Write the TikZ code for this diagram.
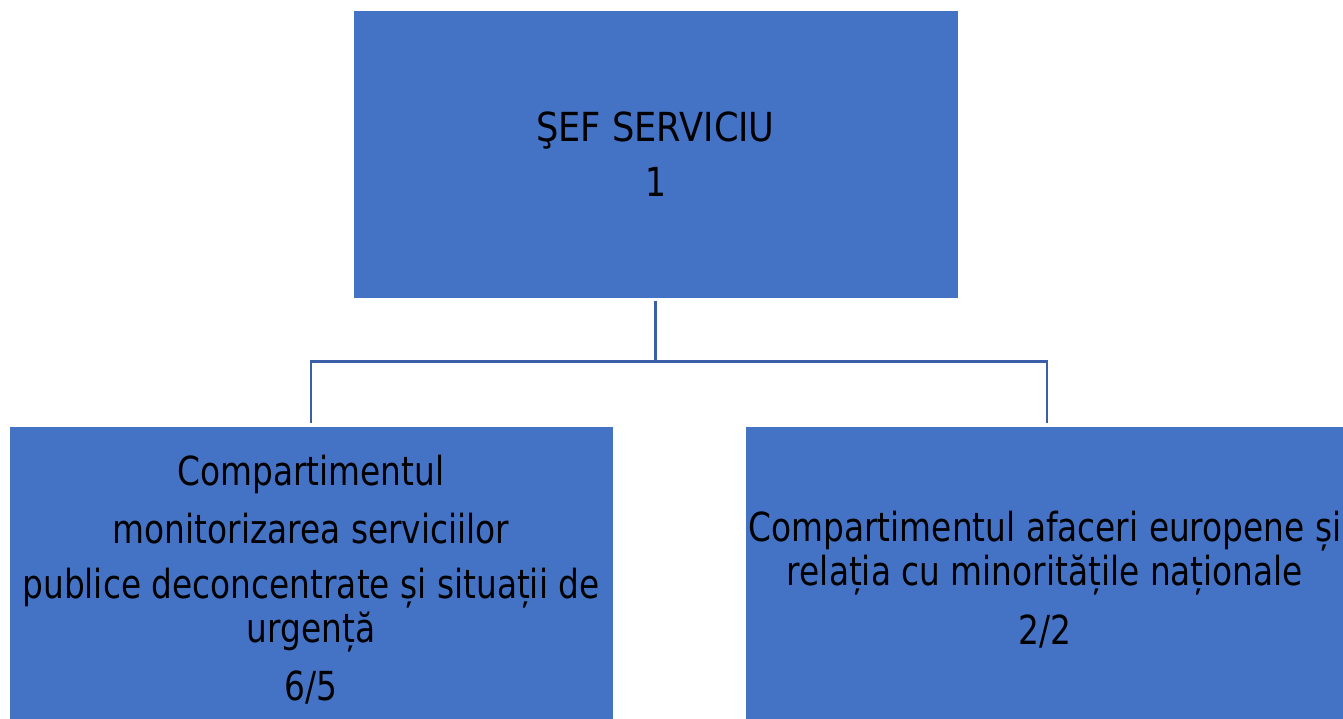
\documentclass[tikz,border=0pt]{standalone}
\usepackage{fontspec}
\setmainfont{DejaVu Sans}[FakeStretch=0.82]
\definecolor{boxblue}{RGB}{68,114,196}
\definecolor{lineblue}{RGB}{59,94,166}

\begin{document}
\begin{tikzpicture}[x=1pt,y=-1pt,
  box/.style={rectangle,fill=boxblue,draw=white,line width=0.8pt,inner sep=0pt,
    align=center,font=\fontsize{40}{44}\selectfont},
  conn/.style={draw=lineblue,line width=2.5pt}]
% The frame
\clip (0,0) rectangle (1343,718);
\fill[white] (0,0) rectangle (1343,718);

% The boxes
\node[box,minimum width=605pt,minimum height=288pt] (sef) at (655.5,154)
  {\fontsize{40}{44}\selectfont\addfontfeature{FakeStretch=0.88}ŞEF SERVICIU\\[11pt] 1};
\node[box,minimum width=604pt,minimum height=308pt] (monit) at (311,580)
  {Compartimentul\\[14pt] monitorizarea serviciilor\\[11pt]
   publice deconcentrate și situații de\\ urgență\\[14pt] 6/5};
\node[box,minimum width=600pt,minimum height=308pt] (afaceri) at (1045,580)
  {Compartimentul afaceri europene și\\ relația cu minoritățile naționale\\[15pt] 2/2};

% Connectors
\draw[conn] ([yshift=-3pt]sef.south) -- ++(0,60) coordinate (bus);
\draw[conn] (bus) -| ([yshift=3pt]monit.north);
\draw[conn] (bus) -| ([xshift=2pt,yshift=3pt]afaceri.north);

\end{tikzpicture}
\end{document}
